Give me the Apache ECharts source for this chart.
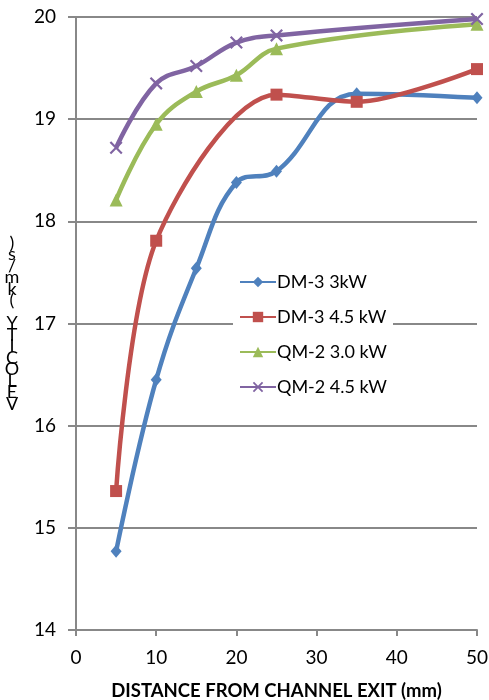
<!DOCTYPE html>
<html>
<head>
<meta charset="utf-8">
<script src="https://cdn.jsdelivr.net/npm/echarts@6/dist/echarts.min.js"></script>
<style>html,body{margin:0;padding:0;background:#fff;}#c{width:489px;height:700px;}</style>
</head>
<body>
<div id="c"></div>
<script>
const xLabel = 'DISTANCE FROM CHANNEL EXIT (mm)';
const yLabel = 'VELOCITY (km/s)';
const seriesNames = ['DM-3 3kW', 'DM-3 4.5 kW', 'QM-2 3.0 kW', 'QM-2 4.5 kW'];
const dm3_3kW_x = [5, 10, 15, 20, 25, 35, 50];
const dm3_3kW_y = [14.77, 16.45, 17.54, 18.38, 18.49, 19.25, 19.21];
const dm3_45kW_x = [5, 10, 25, 35, 50];
const dm3_45kW_y = [15.36, 17.81, 19.24, 19.17, 19.49];
const qm2_3kW_x = [5, 10, 15, 20, 25, 50];
const qm2_3kW_y = [18.21, 18.95, 19.27, 19.43, 19.69, 19.93];
const qm2_45kW_x = [5, 10, 15, 20, 25, 50];
const qm2_45kW_y = [18.72, 19.35, 19.52, 19.75, 19.82, 19.98];

const colors = ['#4F81BD', '#C0504D', '#9BBB59', '#8064A2'];
const xSym = 'path://M0,1.2 L1.2,0 L5,3.8 L8.8,0 L10,1.2 L6.2,5 L10,8.8 L8.8,10 L5,6.2 L1.2,10 L0,8.8 L3.8,5 Z';
const symbols = ['diamond', 'rect', 'triangle', xSym];
const symSizes = [[11, 13], 12, 13, 13];
const smoothness = [0.4, 0.3, 0.4, 0.4];

function pairs(xs, ys) { return xs.map((x, i) => [x, ys[i]]); }
const datasets = [
  pairs(dm3_3kW_x, dm3_3kW_y),
  pairs(dm3_45kW_x, dm3_45kW_y),
  pairs(qm2_3kW_x, qm2_3kW_y),
  pairs(qm2_45kW_x, qm2_45kW_y)
];

const font = 'Lato, "Open Sans", sans-serif';
const chart = echarts.init(document.getElementById('c'));
chart.setOption({
  animation: false,
  backgroundColor: '#fff',
  grid: { left: 76, right: 12, top: 17, bottom: 70, containLabel: false, outerBoundsMode: 'none' },
  legend: {
    orient: 'vertical',
    left: 233,
    top: 268,
    backgroundColor: '#fff',
    padding: [5, 6, 5, 6],
    itemGap: 17,
    itemWidth: 36,
    itemHeight: 13,
    textStyle: { fontFamily: font, fontSize: 18, color: '#000', padding: [0, 0, 0, -4] },
    data: seriesNames
  },
  xAxis: {
    type: 'value', min: 0, max: 50, interval: 10,
    name: xLabel, nameLocation: 'middle', nameGap: 52,
    nameTextStyle: { fontFamily: font, fontSize: 18.5, fontWeight: 'bold', color: '#000' },
    axisLine: { show: true, onZero: false, lineStyle: { color: '#888', width: 2 } },
    axisTick: { show: true, length: 6, lineStyle: { color: '#888', width: 2 } },
    axisLabel: { fontFamily: font, fontSize: 19, color: '#000', margin: 18 },
    splitLine: { show: false }
  },
  yAxis: {
    type: 'value', min: 14, max: 20, interval: 1,
    name: yLabel.split('').reverse().join('\n'),
    nameLocation: 'middle', nameGap: 64, nameRotate: 0,
    nameTextStyle: { fontFamily: font, fontSize: 18, lineHeight: 11.5, color: '#000', align: 'center' },
    axisLine: { show: true, lineStyle: { color: '#888', width: 2 } },
    axisTick: { show: true, length: 8, lineStyle: { color: '#888', width: 2 } },
    axisLabel: { fontFamily: font, fontSize: 19, color: '#000', margin: 20 },
    splitLine: { show: true, lineStyle: { color: '#888', width: 2 } }
  },
  series: datasets.map((d, i) => ({
    name: seriesNames[i],
    type: 'line',
    data: d,
    smooth: smoothness[i],
    symbol: symbols[i],
    symbolSize: symSizes[i],
    showSymbol: true,
    lineStyle: { color: colors[i], width: 4.5 },
    itemStyle: { color: colors[i] },
    z: 2 + i
  }))
});
</script>
</body>
</html>
